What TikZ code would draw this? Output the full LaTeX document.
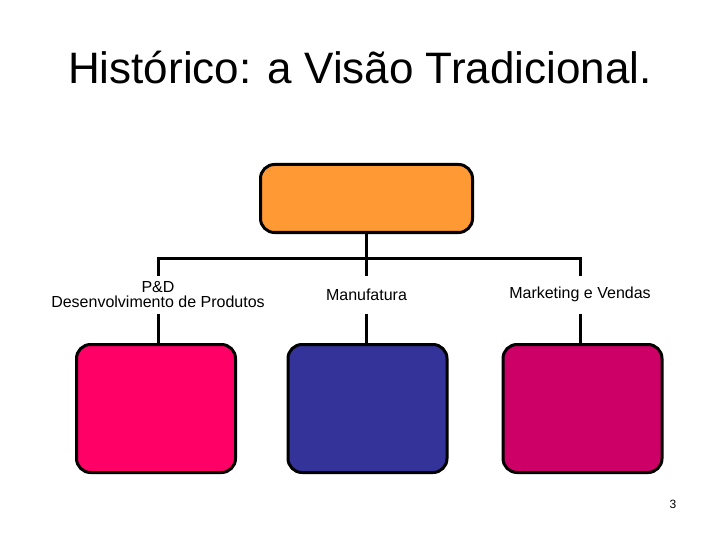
\documentclass[tikz,border=0pt]{standalone}
\usepackage{fontspec}
\setmainfont{Liberation Sans}
\definecolor{headfill}{HTML}{FF9933}
\definecolor{pdfill}{HTML}{FF0066}
\definecolor{mfgfill}{HTML}{333399}
\definecolor{mktfill}{HTML}{CC0066}

\begin{document}
\begin{tikzpicture}[x=1pt, y=-1pt, line width=3pt,
  orgbox/.style={draw=black, rounded corners=14pt, inner sep=0pt,
    minimum width=159pt, minimum height=128pt},
  dept/.style={font=\fontsize{16}{14.5}\selectfont, align=center,
    inner sep=0pt, minimum height=35pt}]
\useasboundingbox (0,0) rectangle (720,540);
\node[font=\fontsize{44}{52}\selectfont] (title) at (360,68)
  {Histórico: a Visão Tradicional.};
% top of the hierarchy
\node[orgbox, fill=headfill, minimum width=212pt, minimum height=68pt]
  (head) at (366.5,198.5) {};
\coordinate (bus) at (366.5,258);
% departments
\node[dept] (pdlabel) at (158,294.5) {P\&D\\Desenvolvimento de Produtos};
\node[dept] (mfglabel) at (366.5,294.5) {Manufatura};
\node[dept] (mktlabel) at (580,294.5) {Marketing e Vendas};
\node[orgbox, fill=pdfill] (pdbox) at (156,408.5) {};
\node[orgbox, fill=mfgfill] (mfgbox) at (367.5,408.5) {};
\node[orgbox, fill=mktfill] (mktbox) at (582.5,408.5) {};
% connectors
\draw (head.south) -- (bus);
\draw (pdlabel.north) |- (bus) -| (mktlabel.north);
\draw (bus) -- (mfglabel.north);
\draw (pdlabel.south) -- (pdlabel.south |- pdbox.north);
\draw (mfglabel.south) -- (mfglabel.south |- mfgbox.north);
\draw (mktlabel.south) -- (mktlabel.south |- mktbox.north);
\node[font=\fontsize{12}{12}\selectfont] (pagenum) at (673,504) {3};
\end{tikzpicture}
\end{document}
